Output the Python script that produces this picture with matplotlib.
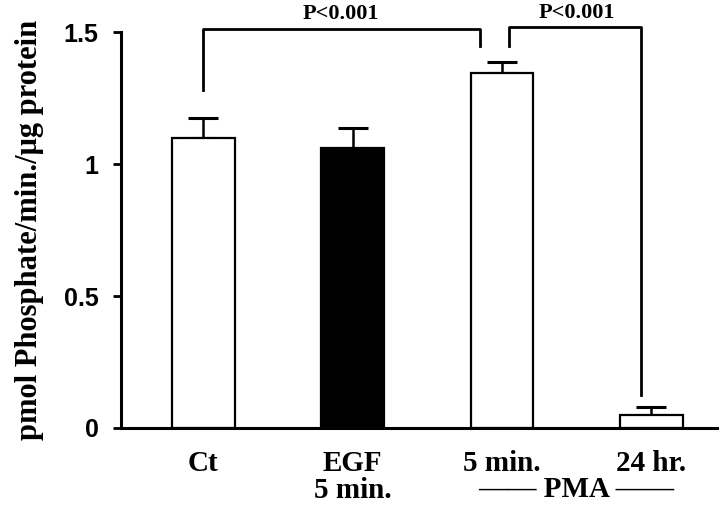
import numpy as np
import matplotlib.pyplot as plt

# bar data
groups = ['Ct', 'EGF\n5 min.', '5 min.', '24 hr.']
means = [1.10, 1.06, 1.345, 0.05]
errors = [0.075, 0.075, 0.04, 0.03]
fills = ['white', 'black', 'white', 'white']
p_labels = ['P<0.001', 'P<0.001']

serif = 'Liberation Serif'
sans = 'Liberation Sans'

fig = plt.figure(figsize=(7.2, 5.05), dpi=100)
ax = fig.add_axes([0.168, 0.1525, 0.828, 0.784])

x = np.arange(len(groups))
ax.bar(x, means, width=0.42, color=fills, edgecolor='black', linewidth=1.6, zorder=2)
ax.errorbar(x, means, yerr=[np.zeros(len(errors)), errors], fmt='none',
            ecolor='black', elinewidth=1.8, capsize=11, capthick=2.2, zorder=1)

ax.set_xlim(-0.55, 3.44)
ax.set_ylim(0, 1.5)
ax.set_yticks([0, 0.5, 1, 1.5])
ax.set_yticklabels(['0', '0.5', '1', '1.5'], fontfamily=sans, fontweight='bold', fontsize=18)
ax.set_xticks(x)
ax.set_xticklabels(groups, fontfamily=serif, fontweight='bold', fontsize=21, linespacing=1.0)
ax.tick_params(axis='x', length=0, pad=16)
ax.tick_params(axis='y', direction='out', length=6, width=2, pad=10)
for s in ['top', 'right']:
    ax.spines[s].set_visible(False)
for s in ['left', 'bottom']:
    ax.spines[s].set_linewidth(2.2)

ax.set_ylabel('pmol Phosphate/min./\u03bcg protein', fontfamily=serif,
              fontweight='bold', fontsize=22, labelpad=14)

# significance brackets
lw = 2.0
ax.plot([0, 0, 1.85, 1.85], [1.28, 1.51, 1.51, 1.447], color='black', lw=lw, clip_on=False)
ax.plot([2.05, 2.05, 2.93, 2.93], [1.447, 1.52, 1.52, 0.125], color='black', lw=lw, clip_on=False)
ax.text(0.92, 1.548, p_labels[0], ha='center', va='baseline', fontfamily=serif,
        fontweight='bold', fontsize=16, clip_on=False)
ax.text(2.5, 1.553, p_labels[1], ha='center', va='baseline', fontfamily=serif,
        fontweight='bold', fontsize=16, clip_on=False)

# PMA group label
fig.text(0.8, 0.003, '\u2014\u2014 PMA \u2014\u2014', ha='center', va='bottom',
         fontfamily=serif, fontweight='bold', fontsize=21)

fig.savefig('out.png', dpi=100)
